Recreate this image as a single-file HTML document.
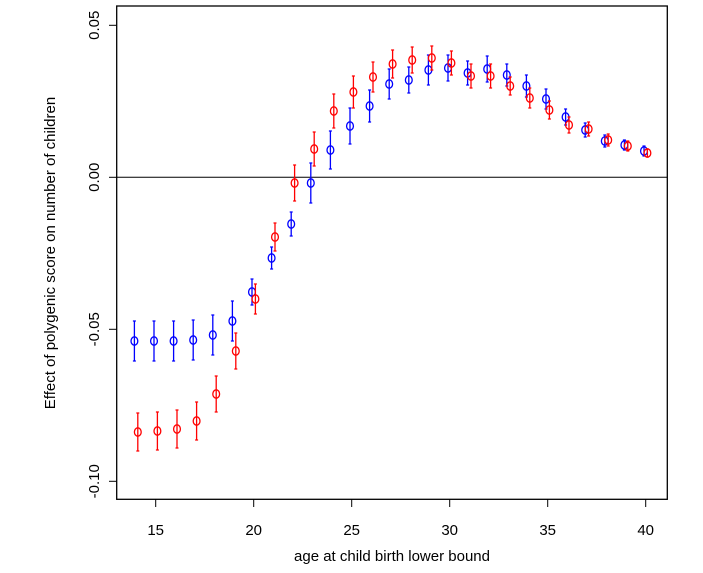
<!DOCTYPE html>
<html><head><style>body{margin:0;background:#fff}</style></head><body>
<svg width="703" height="568" xmlns="http://www.w3.org/2000/svg" font-family="Liberation Sans, sans-serif">
<rect x="116.7" y="6" width="550.6" height="493.3" fill="none" stroke="#000" stroke-width="1.3"/>
<line x1="116.7" y1="177.3" x2="667.3" y2="177.3" stroke="#000" stroke-width="1"/>
<g stroke="#000" stroke-width="1">
<line x1="116.7" y1="25.3" x2="109" y2="25.3"/><line x1="116.7" y1="177.3" x2="109" y2="177.3"/>
<line x1="116.7" y1="329.3" x2="109" y2="329.3"/><line x1="116.7" y1="481.3" x2="109" y2="481.3"/>
<line x1="155.7" y1="499.3" x2="155.7" y2="507"/><line x1="253.7" y1="499.3" x2="253.7" y2="507"/>
<line x1="351.7" y1="499.3" x2="351.7" y2="507"/><line x1="449.7" y1="499.3" x2="449.7" y2="507"/>
<line x1="547.7" y1="499.3" x2="547.7" y2="507"/><line x1="645.7" y1="499.3" x2="645.7" y2="507"/>
</g>
<g font-size="15" text-anchor="middle" fill="#000">
<text x="155.7" y="535">15</text><text x="253.7" y="535">20</text><text x="351.7" y="535">25</text>
<text x="449.7" y="535">30</text><text x="547.7" y="535">35</text><text x="645.7" y="535">40</text>
<text transform="translate(99,25.3) rotate(-90)">0.05</text>
<text transform="translate(99,177.3) rotate(-90)">0.00</text>
<text transform="translate(99,329.3) rotate(-90)">-0.05</text>
<text transform="translate(99,481.3) rotate(-90)">-0.10</text>
<text x="392" y="561">age at child birth lower bound</text>
<text transform="translate(55,253) rotate(-90)">Effect of polygenic score on number of children</text>
</g>
<g stroke="#0000ff" stroke-width="1.3" fill="none">
<path d="M134.4,321V361M154,321V361M173.6,321V361M193.2,320V360M212.8,315V355M232.4,301V341M252,279V305M271.6,247V269M291.2,212V236M310.8,163V203M330.4,131V169M350,108V144M369.6,90V122M389.2,69V99M408.8,67V93M428.4,55V85M448,55V81M467.6,61V85M487.2,56V82M506.8,64V86M526.4,75V97M546,89V109M565.6,109V125M585.2,123V137M604.8,135V147M624.4,140V150M644,146V156"/>
<path d="M132.9,321h3M152.5,321h3M172.1,321h3M191.7,320h3M211.3,315h3M230.9,301h3M250.5,279h3M270.1,247h3M289.7,212h3M309.3,163h3M328.9,131h3M348.5,108h3M368.1,90h3M387.7,69h3M407.3,67h3M426.9,55h3M446.5,55h3M466.1,61h3M485.7,56h3M505.3,64h3M524.9,75h3M544.5,89h3M564.1,109h3M583.7,123h3M603.3,135h3M622.9,140h3M642.5,146h3
M132.9,361h3M152.5,361h3M172.1,361h3M191.7,360h3M211.3,355h3M230.9,341h3M250.5,305h3M270.1,269h3M289.7,236h3M309.3,203h3M328.9,169h3M348.5,144h3M368.1,122h3M387.7,99h3M407.3,93h3M426.9,85h3M446.5,81h3M466.1,85h3M485.7,82h3M505.3,86h3M524.9,97h3M544.5,109h3M564.1,125h3M583.7,137h3M603.3,147h3M622.9,150h3M642.5,156h3"/>
<ellipse cx="134.4" cy="341" rx="3.4" ry="4.2"/><ellipse cx="154" cy="341" rx="3.4" ry="4.2"/><ellipse cx="173.6" cy="341" rx="3.4" ry="4.2"/><ellipse cx="193.2" cy="340" rx="3.4" ry="4.2"/><ellipse cx="212.8" cy="335" rx="3.4" ry="4.2"/><ellipse cx="232.4" cy="321" rx="3.4" ry="4.2"/><ellipse cx="252" cy="292" rx="3.4" ry="4.2"/><ellipse cx="271.6" cy="258" rx="3.4" ry="4.2"/><ellipse cx="291.2" cy="224" rx="3.4" ry="4.2"/><ellipse cx="310.8" cy="183" rx="3.4" ry="4.2"/><ellipse cx="330.4" cy="150" rx="3.4" ry="4.2"/><ellipse cx="350" cy="126" rx="3.4" ry="4.2"/><ellipse cx="369.6" cy="106" rx="3.4" ry="4.2"/><ellipse cx="389.2" cy="84" rx="3.4" ry="4.2"/><ellipse cx="408.8" cy="80" rx="3.4" ry="4.2"/><ellipse cx="428.4" cy="70" rx="3.4" ry="4.2"/><ellipse cx="448" cy="68" rx="3.4" ry="4.2"/><ellipse cx="467.6" cy="73" rx="3.4" ry="4.2"/><ellipse cx="487.2" cy="69" rx="3.4" ry="4.2"/><ellipse cx="506.8" cy="75" rx="3.4" ry="4.2"/><ellipse cx="526.4" cy="86" rx="3.4" ry="4.2"/><ellipse cx="546" cy="99" rx="3.4" ry="4.2"/><ellipse cx="565.6" cy="117" rx="3.4" ry="4.2"/><ellipse cx="585.2" cy="130" rx="3.4" ry="4.2"/><ellipse cx="604.8" cy="141" rx="3.4" ry="4.2"/><ellipse cx="624.4" cy="145" rx="3.4" ry="4.2"/><ellipse cx="644" cy="151" rx="3.4" ry="4.2"/>
</g>
<g stroke="#ff0000" stroke-width="1.3" fill="none">
<path d="M137.8,413V451M157.4,412V450M177,410V448M196.6,402V440M216.2,376V412M235.8,333V369M255.4,284V314M275,223V251M294.6,165V201M314.2,132V166M333.8,94V128M353.4,76V108M373,62V92M392.6,50V78M412.2,47V73M431.8,46V70M451.4,51V75M471,64V88M490.6,64V88M510.2,77V95M529.8,88V108M549.4,101V119M569,117V133M588.6,122V136M608.2,134V146M627.8,141V151M647.4,149V157"/>
<path d="M136.3,413h3M155.9,412h3M175.5,410h3M195.1,402h3M214.7,376h3M234.3,333h3M253.9,284h3M273.5,223h3M293.1,165h3M312.7,132h3M332.3,94h3M351.9,76h3M371.5,62h3M391.1,50h3M410.7,47h3M430.3,46h3M449.9,51h3M469.5,64h3M489.1,64h3M508.7,77h3M528.3,88h3M547.9,101h3M567.5,117h3M587.1,122h3M606.7,134h3M626.3,141h3M645.9,149h3
M136.3,451h3M155.9,450h3M175.5,448h3M195.1,440h3M214.7,412h3M234.3,369h3M253.9,314h3M273.5,251h3M293.1,201h3M312.7,166h3M332.3,128h3M351.9,108h3M371.5,92h3M391.1,78h3M410.7,73h3M430.3,70h3M449.9,75h3M469.5,88h3M489.1,88h3M508.7,95h3M528.3,108h3M547.9,119h3M567.5,133h3M587.1,136h3M606.7,146h3M626.3,151h3M645.9,157h3"/>
<ellipse cx="137.8" cy="432" rx="3.4" ry="4.2"/><ellipse cx="157.4" cy="431" rx="3.4" ry="4.2"/><ellipse cx="177" cy="429" rx="3.4" ry="4.2"/><ellipse cx="196.6" cy="421" rx="3.4" ry="4.2"/><ellipse cx="216.2" cy="394" rx="3.4" ry="4.2"/><ellipse cx="235.8" cy="351" rx="3.4" ry="4.2"/><ellipse cx="255.4" cy="299" rx="3.4" ry="4.2"/><ellipse cx="275" cy="237" rx="3.4" ry="4.2"/><ellipse cx="294.6" cy="183" rx="3.4" ry="4.2"/><ellipse cx="314.2" cy="149" rx="3.4" ry="4.2"/><ellipse cx="333.8" cy="111" rx="3.4" ry="4.2"/><ellipse cx="353.4" cy="92" rx="3.4" ry="4.2"/><ellipse cx="373" cy="77" rx="3.4" ry="4.2"/><ellipse cx="392.6" cy="64" rx="3.4" ry="4.2"/><ellipse cx="412.2" cy="60" rx="3.4" ry="4.2"/><ellipse cx="431.8" cy="58" rx="3.4" ry="4.2"/><ellipse cx="451.4" cy="63" rx="3.4" ry="4.2"/><ellipse cx="471" cy="76" rx="3.4" ry="4.2"/><ellipse cx="490.6" cy="76" rx="3.4" ry="4.2"/><ellipse cx="510.2" cy="86" rx="3.4" ry="4.2"/><ellipse cx="529.8" cy="98" rx="3.4" ry="4.2"/><ellipse cx="549.4" cy="110" rx="3.4" ry="4.2"/><ellipse cx="569" cy="125" rx="3.4" ry="4.2"/><ellipse cx="588.6" cy="129" rx="3.4" ry="4.2"/><ellipse cx="608.2" cy="140" rx="3.4" ry="4.2"/><ellipse cx="627.8" cy="146" rx="3.4" ry="4.2"/><ellipse cx="647.4" cy="153" rx="3.4" ry="4.2"/>
</g>
</svg>
</body></html>
